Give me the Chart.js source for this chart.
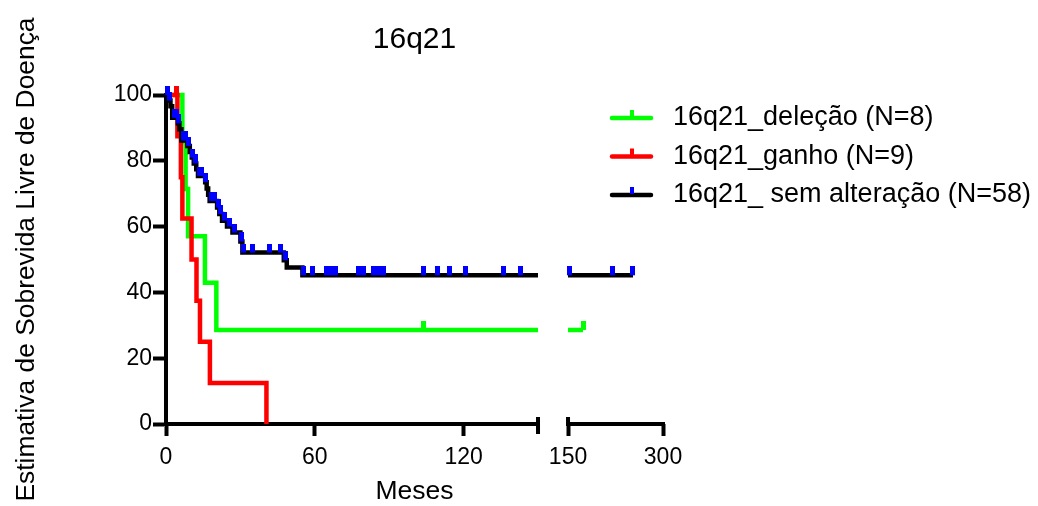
<!DOCTYPE html>
<html>
<head>
<meta charset="utf-8">
<title>16q21</title>
<script src="https://cdn.jsdelivr.net/npm/chart.js@4.4.1/dist/chart.umd.min.js"></script>
<style>
  html, body { margin: 0; padding: 0; background: #fff; }
  #wrap { width: 1038px; height: 506px; }
</style>
</head>
<body>
<div id="wrap"><canvas id="kmChart" width="1038" height="506"></canvas></div>
<script>
// ===== DATA (months, survival %) =====
const delecaoMonths = [0, 6.6, 7.9, 8.9, 15.7, 20.3];
const delecaoSurv = [100, 85.7, 71.4, 57.1, 42.9, 28.6];
const delecaoEnd = 173.7;
const delecaoCensored = [104, 173.7];

const ganhoMonths = [0, 4.6, 6.0, 6.6, 10.3, 12.3, 13.7, 17.7, 40.5];
const ganhoSurv = [100, 87.5, 75, 62.5, 50, 37.5, 25, 12.5, 0];
const ganhoEnd = 40.5;
const ganhoCensored = [4.4];

const semAltMonths = [0, 1.0, 1.8, 2.5, 4.8, 5.4, 6.2, 8.6, 9.6, 10.4, 11.2, 12.2, 12.9, 15.8, 16.4, 17.0, 17.6, 20.6, 21.5, 22.6, 24.6, 26.8, 30.0, 30.8, 47.5, 48.7, 55.0];
const semAltSurv = [100, 98.3, 96.6, 93.1, 91.4, 89.6, 86.2, 84.5, 82.7, 81.0, 79.2, 77.4, 75.4, 73.5, 71.6, 69.7, 67.8, 65.8, 63.8, 61.8, 60.0, 58.2, 55.5, 52.1, 49.8, 47.6, 45.2];
const semAltEnd = 252.6;
const semAltCensored = [0.5, 1.4, 3.3, 4.1, 5.1, 6.9, 7.7, 9.1, 10.8, 11.7, 13.6, 14.5, 16.1, 18.5, 19.5, 21.0, 22.1, 23.4, 25.5, 27.6, 30.4, 31.4, 35.0, 41.8, 46.2, 48.1, 55.6, 59.2, 64.6, 66.4, 68.2, 77.6, 79.8, 83.6, 85.6, 87.5, 103.9, 109.5, 114.4, 120.8, 136.1, 143.0, 151.6, 221.0, 252.6];

const seriesLabels = ["16q21_deleção (N=8)", "16q21_ganho (N=9)", "16q21_ sem alteração (N=58)"];
const lineColors = ["#00ff00", "#ff0000", "#000000"];
const censorColors = ["#00ff00", "#ff0000", "#0000ff"];

const xTickMonths = [0, 60, 120, 150, 300];
const yTicks = [0, 20, 40, 60, 80, 100];

// ===== BROKEN X AXIS =====
// 0-150 months on the first segment, 150-300 squeezed into the second one
const BREAK_AT = 150;
const GAP = 12.1;
const SEG2_SCALE = 0.2553;

function toAxis(m) {
    if (m <= BREAK_AT) return m;
    return BREAK_AT + GAP + (m - BREAK_AT) * SEG2_SCALE;
}

function tickAxis(m) {
    return m < BREAK_AT ? toAxis(m) : BREAK_AT + GAP + (m - BREAK_AT) * SEG2_SCALE;
}

function stepAt(months, surv, m) {
    let v = surv[0];
    months.forEach((t, i) => { if (t <= m) v = surv[i]; });
    return v;
}

function kmPoints(months, surv, end) {
    const pts = months.map((m, i) => ({ x: toAxis(m), y: surv[i] }));
    const last = surv[surv.length - 1];
    if (end > BREAK_AT) {
        pts.push({ x: toAxis(BREAK_AT), y: last });
        pts.push({ x: BREAK_AT + GAP / 2, y: null });
        pts.push({ x: BREAK_AT + GAP, y: last });
        pts.push({ x: toAxis(end), y: last });
    } else if (end > months[months.length - 1]) {
        pts.push({ x: toAxis(end), y: last });
    }
    return pts;
}

function censorPoints(months, surv, times) {
    return times.map(m => ({ x: toAxis(m), y: stepAt(months, surv, m) }));
}

// small vertical tick sitting on top of the curve
function censorMark(color, w, h) {
    const c = document.createElement("canvas");
    c.width = w;
    c.height = h * 2;
    const g = c.getContext("2d");
    g.fillStyle = color;
    g.fillRect(0, 0, w, h);
    return c;
}

const FONT = '"Liberation Sans", Arial, sans-serif';

function lineSet(label, data, color, order) {
    return {
        type: "line",
        label,
        data,
        borderColor: color,
        borderWidth: 4.5,
        stepped: true,
        pointRadius: 0,
        fill: false,
        spanGaps: false,
        clip: false,
        borderCapStyle: "butt",
        borderJoinStyle: "miter",
        order
    };
}

function tickSet(data, color, order) {
    return {
        type: "scatter",
        data,
        pointStyle: censorMark(color, 5, 9),
        pointRadius: 3,
        clip: false,
        order
    };
}

// ===== AXIS LINE WITH BREAK =====
const brokenAxis = {
    id: "brokenAxis",
    beforeDatasetsDraw(chart) {
        const { ctx, chartArea, scales } = chart;
        const x = scales.x;
        const y0 = chartArea.bottom;
        const seg1End = x.getPixelForValue(toAxis(BREAK_AT));
        const seg2Start = x.getPixelForValue(BREAK_AT + GAP);
        const right = x.getPixelForValue(toAxis(300));

        ctx.save();
        ctx.strokeStyle = "#000";
        ctx.lineWidth = 4;
        ctx.beginPath();
        ctx.moveTo(chartArea.left - 2, y0);
        ctx.lineTo(seg1End + 2, y0);
        ctx.moveTo(seg2Start - 2, y0);
        ctx.lineTo(right + 2, y0);
        ctx.moveTo(seg1End, y0 - 7);
        ctx.lineTo(seg1End, y0 + 10);
        ctx.moveTo(seg2Start, y0 - 7);
        ctx.lineTo(seg2Start, y0);
        ctx.stroke();
        ctx.restore();
    }
};

// ===== LEGEND =====
const kmLegend = {
    id: "kmLegend",
    afterDraw(chart) {
        const ctx = chart.ctx;
        const left = 610, top = 118, step = 38.5;
        ctx.save();
        ctx.font = "27px " + FONT;
        ctx.textBaseline = "middle";
        seriesLabels.forEach((label, i) => {
            const y = top + i * step;
            ctx.strokeStyle = lineColors[i];
            ctx.lineWidth = 4.5;
            ctx.lineCap = "round";
            ctx.beginPath();
            ctx.moveTo(left + 2, y);
            ctx.lineTo(left + 41, y);
            ctx.stroke();
            ctx.fillStyle = censorColors[i];
            ctx.fillRect(left + 20, y - 8, 4, 7);
            ctx.fillStyle = "#000";
            ctx.fillText(label, left + 63, y);
        });
        ctx.restore();
    }
};

// ===== CHART =====
Chart.defaults.color = "#000";

new Chart(document.getElementById("kmChart"), {
    data: {
        datasets: [
            tickSet(censorPoints(semAltMonths, semAltSurv, semAltCensored), censorColors[2], 0),
            lineSet(seriesLabels[2], kmPoints(semAltMonths, semAltSurv, semAltEnd), lineColors[2], 1),
            tickSet(censorPoints(ganhoMonths, ganhoSurv, ganhoCensored), censorColors[1], 2),
            lineSet(seriesLabels[1], kmPoints(ganhoMonths, ganhoSurv, ganhoEnd), lineColors[1], 3),
            tickSet(censorPoints(delecaoMonths, delecaoSurv, delecaoCensored), censorColors[0], 4),
            lineSet(seriesLabels[0], kmPoints(delecaoMonths, delecaoSurv, delecaoEnd), lineColors[0], 5)
        ]
    },
    options: {
        responsive: false,
        animation: false,
        devicePixelRatio: 1,
        layout: { padding: { left: 0, right: 375, top: 0, bottom: 0 } },
        plugins: {
            legend: { display: false },
            tooltip: { enabled: false },
            title: {
                display: true,
                text: "16q21",
                fullSize: false,
                color: "#000",
                font: { family: FONT, size: 30, weight: "normal", lineHeight: 1 },
                padding: { top: 25, bottom: 40 }
            }
        },
        scales: {
            x: {
                type: "linear",
                min: 0,
                max: toAxis(300),
                afterBuildTicks: s => { s.ticks = xTickMonths.map(m => ({ value: tickAxis(m) })); },
                afterFit: s => { s.height = 82; },
                grid: {
                    display: true,
                    drawOnChartArea: false,
                    drawTicks: true,
                    tickLength: 12,
                    tickWidth: 4,
                    tickColor: "#000",
                    color: "#000"
                },
                border: { display: false },
                ticks: {
                    padding: 8,
                    autoSkip: false,
                    maxRotation: 0,
                    color: "#000",
                    font: { family: FONT, size: 23 },
                    callback: (v, i) => String(xTickMonths[i])
                },
                title: {
                    display: true,
                    text: "Meses",
                    color: "#000",
                    font: { family: FONT, size: 26.5, lineHeight: 1 },
                    padding: { top: 0, bottom: 1 }
                }
            },
            y: {
                min: 0,
                max: 100,
                afterBuildTicks: s => { s.ticks = yTicks.map(v => ({ value: v })); },
                afterFit: s => { s.width = 166; },
                grid: {
                    drawOnChartArea: false,
                    drawTicks: true,
                    tickLength: 13,
                    tickWidth: 4,
                    tickColor: "#000"
                },
                border: { display: true, color: "#000", width: 4 },
                ticks: {
                    padding: 1,
                    color: "#000",
                    font: { family: FONT, size: 23 }
                },
                title: {
                    display: true,
                    text: "Estimativa de Sobrevida Livre de Doença",
                    color: "#000",
                    font: { family: FONT, size: 26.4, lineHeight: 1.2 },
                    padding: { top: 11, bottom: 0 }
                }
            }
        }
    },
    plugins: [brokenAxis, kmLegend]
});
</script>
</body>
</html>
